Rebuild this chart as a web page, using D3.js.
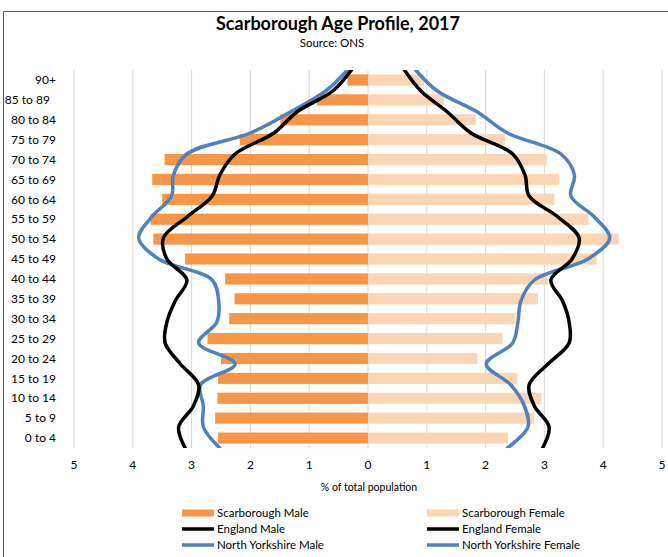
<!DOCTYPE html>
<html><head><meta charset="utf-8">
<script src="https://cdn.jsdelivr.net/npm/d3@7/dist/d3.min.js"></script>
<style>body{margin:0;background:#fff}svg{display:block;font-family:Lato,"Open Sans",sans-serif}</style>
</head><body><svg id="c" width="668" height="557"></svg>
<script>
const ages = ["90+","85 to 89","80 to 84","75 to 79","70 to 74","65 to 69","60 to 64","55 to 59","50 to 54","45 to 49","40 to 44","35 to 39","30 to 34","25 to 29","20 to 24","15 to 19","10 to 14","5 to 9","0 to 4"];
const scarMale = [0.35,0.87,1.49,2.18,3.46,3.67,3.50,3.70,3.65,3.11,2.43,2.27,2.36,2.73,2.50,2.55,2.56,2.60,2.55];
const scarFemale = [0.95,1.29,1.83,2.33,3.04,3.25,3.17,3.75,4.26,3.89,3.06,2.89,2.51,2.29,1.86,2.54,2.95,2.83,2.38];
const engMale = [0.28,0.60,1.21,1.60,2.26,2.52,2.65,3.08,3.48,3.42,3.08,3.28,3.42,3.45,3.19,2.88,2.97,3.22,3.11];
const engFemale = [0.62,0.90,1.35,1.75,2.46,2.67,2.74,3.23,3.59,3.47,3.11,3.31,3.42,3.42,3.06,2.74,2.83,3.08,2.97];
const nyMale = [0.35,0.72,1.32,2.00,3.08,3.31,3.34,3.68,3.90,3.56,2.65,2.54,2.57,2.88,2.26,2.85,2.80,2.80,2.52];
const nyFemale = [0.81,1.18,1.86,2.37,3.28,3.51,3.45,3.85,4.11,3.74,2.83,2.60,2.55,2.46,2.01,2.43,2.66,2.72,2.37];
const xTicks = [-5,-4,-3,-2,-1,0,1,2,3,4,5];

(function(){
const svg = d3.select("#c");
const pL = 74, pR = 662, pT = 70, pB = 448;
const x = d3.scaleLinear().domain([-5,5]).range([pL,pR]);
const y = d3.scaleBand().domain(ages).range([pT,pB]).paddingInner(0.44).paddingOuter(0.22);
const yl = d3.scalePoint().domain(ages).range([pT,pB]);

svg.append("path").attr("d",`M3.5,557 V11.5 H668`).attr("fill","none").attr("stroke","#595959").attr("stroke-width",1);

svg.append("text").attr("x",338).attr("y",30).attr("text-anchor","middle")
  .attr("font-size",18).attr("font-weight","bold").attr("fill","#000").text("Scarborough Age Profile, 2017");
svg.append("text").attr("x",332).attr("y",47).attr("text-anchor","middle")
  .attr("font-size",11.5).attr("fill","#000").text("Source: ONS");

svg.append("g").selectAll("line").data(xTicks).join("line")
  .attr("x1",d=>x(d)).attr("x2",d=>x(d)).attr("y1",pT).attr("y2",pB)
  .attr("stroke","#D9D9D9").attr("stroke-width",1);

svg.append("g").selectAll("rect").data(ages).join("rect")
  .attr("x",(d,i)=>x(-scarMale[i])).attr("width",(d,i)=>x(0)-x(-scarMale[i]))
  .attr("y",d=>y(d)).attr("height",y.bandwidth()).attr("fill","#F79646");
svg.append("g").selectAll("rect").data(ages).join("rect")
  .attr("x",x(0)).attr("width",(d,i)=>x(scarFemale[i])-x(0))
  .attr("y",d=>y(d)).attr("height",y.bandwidth()).attr("fill","#FCD5B5");

const line = (vals,sign)=>d3.line().curve(d3.curveCatmullRom.alpha(0.5))
  .x((d,i)=>x(sign*vals[i])).y(d=>yl(d))(ages);
svg.append("clipPath").attr("id","pc").append("rect").attr("x",pL-10).attr("y",pT).attr("width",pR-pL+20).attr("height",pB-pT);
const lg = svg.append("g").attr("clip-path","url(#pc)");
[[nyMale,-1,"#4F81BD"],[nyFemale,1,"#4F81BD"],[engMale,-1,"#000"],[engFemale,1,"#000"]].forEach(([v,s,c])=>{
  lg.append("path").attr("d",line(v,s)).attr("fill","none").attr("stroke",c).attr("stroke-width",3.5).attr("stroke-linecap","round");
});

svg.append("g").selectAll("text").data(ages).join("text")
  .attr("x",56).attr("y",d=>y(d)+y.bandwidth()/2).attr("dy","0.35em")
  .attr("text-anchor","end").attr("font-size",12).attr("fill","#000")
  .style("white-space","pre").text(d=>d==="85 to 89"?"85 to 89  ":d);

svg.append("g").selectAll("text").data(xTicks).join("text")
  .attr("x",d=>x(d)).attr("y",469).attr("text-anchor","middle").attr("font-size",12).attr("fill","#000")
  .text(d=>Math.abs(d));
svg.append("text").attr("x",369).attr("y",491).attr("text-anchor","middle").attr("font-size",10.5).attr("fill","#000")
  .text("% of total population");

const legend = [
  {name:"Scarborough Male",type:"bar",color:"#F79646",col:0,row:0},
  {name:"Scarborough Female",type:"bar",color:"#FCD5B5",col:1,row:0},
  {name:"England Male",type:"line",color:"#000",col:0,row:1},
  {name:"England Female",type:"line",color:"#000",col:1,row:1},
  {name:"North Yorkshire Male",type:"line",color:"#4F81BD",col:0,row:2},
  {name:"North Yorkshire Female",type:"line",color:"#4F81BD",col:1,row:2}
];
const lgx=[182,427], lgy=[513,529,545];
legend.forEach(l=>{
  const gx=lgx[l.col], gy=lgy[l.row];
  if(l.type==="bar") svg.append("rect").attr("x",gx).attr("y",gy-3.5).attr("width",32).attr("height",7).attr("fill",l.color);
  else svg.append("line").attr("x1",gx).attr("x2",gx+32).attr("y1",gy).attr("y2",gy).attr("stroke",l.color).attr("stroke-width",3.5);
  svg.append("text").attr("x",gx+35).attr("y",gy).attr("dy","0.35em").attr("font-size",11.5).attr("fill","#000").text(l.name);
});
})();
</script></body></html>
